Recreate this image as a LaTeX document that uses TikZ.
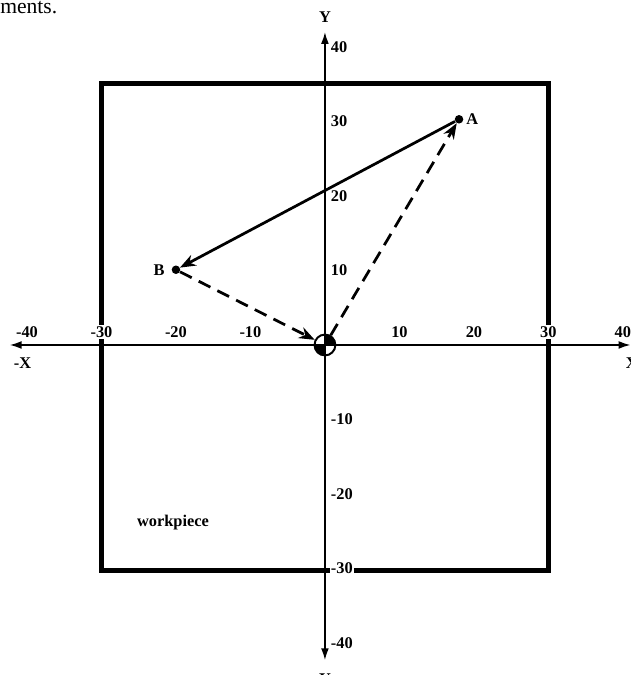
\documentclass[tikz,border=0pt]{standalone}
\usepackage{fontspec}
\setmainfont{Liberation Serif}
\usepackage{tikz}
\usetikzlibrary{arrows.meta,positioning}
\tikzset{
  workbox/.style={line width=3.8pt},
  axisline/.style={
    {Latex[length=9pt,width=6pt]}-{Latex[length=9pt,width=6pt]}, line width=1.1pt
  },
  ticklabel/.style={font=\fontsize{12.5}{14}\selectfont\bfseries,
    fill=white, inner sep=1pt},
  axislabel/.style={font=\fontsize{12.5}{14}\selectfont\bfseries, inner sep=1pt},
  pointdot/.style={circle, fill=black, inner sep=0pt, minimum size=6.5pt},
  datum/.style={circle, draw, line width=1.5pt, inner sep=0pt,
    minimum size=0.56cm,
    path picture={
      \fill (path picture bounding box.center) rectangle (path picture bounding box.north east);
      \fill (path picture bounding box.center) rectangle (path picture bounding box.south west);
    }},
  moveline/.style={-{Stealth[length=12pt,width=9pt]}, line width=2.1pt},
  rapidline/.style={moveline, dash pattern=on 10pt off 6pt},
}
\begin{document}
\begin{tikzpicture}[x=0.2cm, y=0.2cm]
\useasboundingbox (-43.62,-44.30) rectangle (41.07,46.31);
\node[font=\fontsize{16.5}{18}\selectfont, anchor=base west, inner sep=0pt] (page-text) at (-43.62,44.56) {ments.};
\draw[workbox] (-30,-30.3) rectangle (30,35.1);
\node[axislabel] (workpiece) at (-20.4,-23.9) {workpiece};
% scale numbers
\foreach \v in {-40,-30,-20,-10,10,20,30,40}
  \node[ticklabel] (xlab\v) at (\v,1.7) {\v};
\foreach \v in {-40,-30,-20,-10,10,20,30,40}
  \node[ticklabel, anchor=west] (ylab\v) at (0.6,\v) {\v};
% axes
\coordinate (x-left) at (-42.3,0);
\coordinate (x-right) at (41,0);
\coordinate (y-top) at (0,42);
\coordinate (y-bottom) at (0,-42.3);
\draw[axisline] (x-left) -- (x-right);
\draw[axisline] (y-bottom) -- (y-top);
\node[axislabel] (ylab-top) at (0,44) {Y};
\node[axislabel] (ylab-bottom) at (0,-44.8) {Y};
\node[axislabel] (xlab-left) at (-40.6,-2.4) {-X};
\node[axislabel] (xlab-right) at (41.2,-2.4) {X};
% points
\node[datum] (datum) at (0,0) {};
\node[pointdot] (ptA) at (18,30.3) {};
\node[pointdot] (ptB) at (-20,10.1) {};
\node[axislabel, right=1pt of ptA] (labA) {A};
\node[axislabel, left=4pt of ptB] (labB) {B};
\draw[moveline] (ptA) -- (ptB);
\draw[rapidline] (ptB) -- (datum);
\draw[rapidline] (datum) -- (ptA);
\end{tikzpicture}
\end{document}
